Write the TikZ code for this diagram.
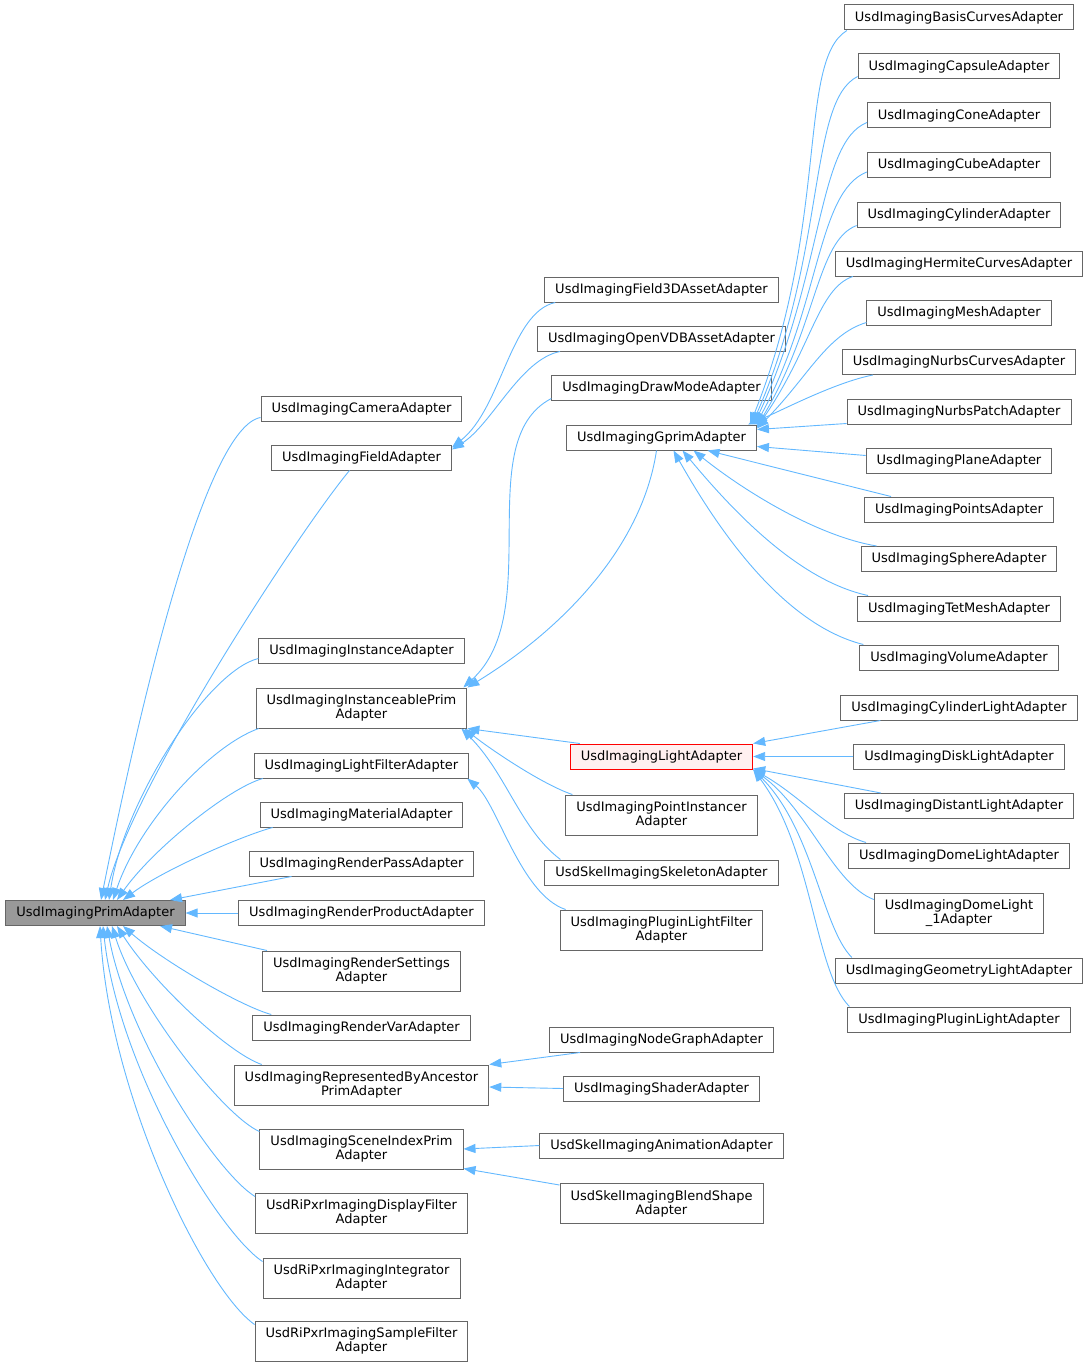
\documentclass[tikz,border=0pt]{standalone}
\usepackage{fontspec}
\setmainfont{DejaVu Sans}
\usetikzlibrary{arrows.meta}

\definecolor{edgeblue}{HTML}{63B8FF}
\definecolor{boxgray}{HTML}{666666}
\definecolor{rootgray}{HTML}{999999}
\definecolor{curfill}{HTML}{FFF0F0}

\tikzset{
	cls/.style={draw=boxgray, fill=white, line width=1pt, inner xsep=10.5pt, inner ysep=2pt,
		minimum height=25pt, align=center, font=\fontsize{13}{14}\selectfont},
	cls2/.style={cls, minimum height=40pt},
	inh/.style={edgeblue, line width=0.9pt, -{Triangle[length=12pt,width=9pt]}}
}

\begin{document}
\begin{tikzpicture}[x=1pt, y=-1pt]
		
		\useasboundingbox (0,0) rectangle (1089,1367);
		
		% Base class
		\node[cls, fill=rootgray] (root) at (95.5,913) {UsdImagingPrimAdapter};
		
		% Direct subclasses
		\foreach \n/\y/\txt in {cam/408.5/UsdImagingCameraAdapter, field/457.5/UsdImagingFieldAdapter,
			inst/650.5/UsdImagingInstanceAdapter, lfilter/765.5/UsdImagingLightFilterAdapter,
			mat/814.5/UsdImagingMaterialAdapter, rpass/863.5/UsdImagingRenderPassAdapter,
			rprod/913/UsdImagingRenderProductAdapter, rvar/1027.5/UsdImagingRenderVarAdapter} {
			\node[cls] (\n) at (361.5,\y) {\txt};
		}
		\node[cls2] (instprim) at (361.5,708) {UsdImagingInstanceablePrim\\Adapter};
		\node[cls2] (rsettings) at (361.5,971) {UsdImagingRenderSettings\\Adapter};
		\node[cls2] (repanc) at (361.5,1085) {UsdImagingRepresentedByAncestor\\PrimAdapter};
		\node[cls2] (sceneidx) at (361.5,1149) {UsdImagingSceneIndexPrim\\Adapter};
		\node[cls2] (dispfilter) at (361.5,1213) {UsdRiPxrImagingDisplayFilter\\Adapter};
		\node[cls2] (integrator) at (361.5,1278) {UsdRiPxrImagingIntegrator\\Adapter};
		\node[cls2] (samplefilter) at (361.5,1341) {UsdRiPxrImagingSampleFilter\\Adapter};
		
		% Second level
		\foreach \n/\y/\txt in {f3d/289.5/UsdImagingField3DAssetAdapter, vdb/338.5/UsdImagingOpenVDBAssetAdapter,
			drawmode/387.5/UsdImagingDrawModeAdapter, gprim/437.5/UsdImagingGprimAdapter,
			skel/872.5/UsdSkelImagingSkeletonAdapter, nodegraph/1039.5/UsdImagingNodeGraphAdapter,
			shader/1088.5/UsdImagingShaderAdapter, anim/1145.5/UsdSkelImagingAnimationAdapter} {
			\node[cls] (\n) at (661.5,\y) {\txt};
		}
		\node[cls, draw=red, fill=curfill] (light) at (661.5,756.5) {UsdImagingLightAdapter};
		\node[cls2] (ptinst) at (661.5,815) {UsdImagingPointInstancer\\Adapter};
		\node[cls2] (pluginlf) at (661.5,930) {UsdImagingPluginLightFilter\\Adapter};
		\node[cls2] (blend) at (661.5,1203.5) {UsdSkelImagingBlendShape\\Adapter};
		
		% Third level
		\foreach \n/\y/\txt in {basis/17.5/UsdImagingBasisCurvesAdapter, capsule/66.5/UsdImagingCapsuleAdapter,
			cone/115.5/UsdImagingConeAdapter, cube/165/UsdImagingCubeAdapter,
			cyl/214.5/UsdImagingCylinderAdapter, hermite/263.5/UsdImagingHermiteCurvesAdapter,
			mesh/312.5/UsdImagingMeshAdapter, ncurves/362/UsdImagingNurbsCurvesAdapter,
			npatch/411.5/UsdImagingNurbsPatchAdapter, plane/460.5/UsdImagingPlaneAdapter,
			points/509.5/UsdImagingPointsAdapter, sphere/559/UsdImagingSphereAdapter,
			tetmesh/608.5/UsdImagingTetMeshAdapter, volume/657.5/UsdImagingVolumeAdapter,
			cyllight/707.5/UsdImagingCylinderLightAdapter, disk/756.5/UsdImagingDiskLightAdapter,
			distant/806/UsdImagingDistantLightAdapter, dome/855.5/UsdImagingDomeLightAdapter,
			geomlight/970.5/UsdImagingGeometryLightAdapter, pluginlight/1019.5/UsdImagingPluginLightAdapter} {
			\node[cls] (\n) at (959,\y) {\txt};
		}
		\node[cls2] (dome1) at (959,913) {UsdImagingDomeLight\\\_1Adapter};
		
		% Edges to the base class
		\draw[inh] ([yshift=4pt]cam.south west) .. controls +(-55,10) and +(40,-200) .. ([xshift=5.5pt]root.north);
		\draw[inh] ([xshift=-12pt]field.south) .. controls +(-50,60) and +(25,-110) .. ([xshift=9.5pt]root.north);
		\draw[inh] ([yshift=5pt]inst.south west) .. controls +(-50,12) and +(15,-100) .. ([xshift=13.5pt]root.north);
		\draw[inh] ([xshift=3pt]instprim.south west) .. controls +(-50,18) and +(25,-75) .. ([xshift=17.5pt]root.north);
		\draw[inh] ([xshift=9pt]lfilter.south west) .. controls +(-35,10) and +(35,-50) .. ([xshift=21.5pt]root.north);
		\draw[inh] ([xshift=13pt]mat.south west) .. controls +(-30,8) and +(40,-30) .. ([xshift=27.5pt]root.north);
		\draw[inh] ([xshift=43pt]rpass.south west) -- ([xshift=74.5pt]root.north);
		\draw[inh] (rprod.west) -- (root.east);
		\draw[inh] ([xshift=5pt]rsettings.north west) -- ([xshift=64.5pt]root.south);
		\draw[inh] ([xshift=19pt]rvar.north west) .. controls +(-30,-8) and +(40,35) .. ([xshift=27.5pt]root.south);
		\draw[inh] ([xshift=28pt]repanc.north west) .. controls +(-35,-12) and +(35,55) .. ([xshift=21.5pt]root.south);
		\draw[inh] ([yshift=-3pt]sceneidx.north west) .. controls +(-35,-15) and +(25,80) .. ([xshift=16.5pt]root.south);
		\draw[inh] ([yshift=-4pt]dispfilter.north west) .. controls +(-40,-25) and +(20,110) .. ([xshift=11.5pt]root.south);
		\draw[inh] ([yshift=-4pt]integrator.north west) .. controls +(-45,-30) and +(15,140) .. ([xshift=7.5pt]root.south);
		\draw[inh] ([yshift=-4pt]samplefilter.north west) .. controls +(-50,-35) and +(10,170) .. ([xshift=4.5pt]root.south);
		
		% Field adapter
		\draw[inh] ([xshift=11pt]f3d.south west) .. controls +(-45,10) and +(50,-40) .. ([yshift=-3pt]field.north east);
		\draw[inh] ([xshift=23pt]vdb.south west) .. controls +(-40,8) and +(40,-25) .. ([yshift=-5pt]field.north east);
		
		% Instanceable prim adapter
		\draw[inh] ([yshift=2pt]drawmode.south west) .. controls +(-81,42) and +(83,-76) .. ([xshift=-4pt]instprim.north east);
		\draw[inh] ([xshift=-5pt]gprim.south) .. controls +(-15,100) and +(90,-55) .. (instprim.north east);
		\draw[inh] ([xshift=10pt]light.north west) -- (instprim.south east);
		\draw[inh] ([xshift=7pt]ptinst.north west) .. controls +(-30,-10) and +(25,20) .. ([xshift=-3pt]instprim.south east);
		\draw[inh] ([xshift=16pt]skel.north west) .. controls +(-40,-30) and +(45,45) .. ([xshift=-6pt]instprim.south east);
		
		% Light filter, ancestor and scene index adapters
		\draw[inh] ([xshift=6pt]pluginlf.north west) .. controls +(-45,-15) and +(30,25) .. ([xshift=-2pt]lfilter.south east);
		\draw[inh] ([xshift=31pt]nodegraph.south west) -- (repanc.north east);
		\draw[inh] (shader.west) -- ([yshift=-2pt]repanc.east);
		\draw[inh] (anim.west) -- (sceneidx.east);
		\draw[inh] ([yshift=-2pt]blend.north west) -- ([yshift=1pt]sceneidx.south east);
		
		% Gprim adapter
		\draw[inh] ([xshift=3pt]basis.south west) .. controls +(-50,30) and +(80,-200) .. ([xshift=-7pt]gprim.north east);
		\draw[inh] ([yshift=3pt]capsule.south west) .. controls +(-50,25) and +(75,-170) .. ([xshift=-5pt]gprim.north east);
		\draw[inh] ([yshift=6pt]cone.south west) .. controls +(-50,20) and +(70,-150) .. ([xshift=-3pt]gprim.north east);
		\draw[inh] ([yshift=6pt]cube.south west) .. controls +(-50,20) and +(65,-120) .. ([xshift=-1pt]gprim.north east);
		\draw[inh] ([yshift=2pt]cyl.south west) .. controls +(-40,15) and +(60,-100) .. ([yshift=-2pt]gprim.north east);
		\draw[inh] ([xshift=18pt]hermite.south west) .. controls +(-35,12) and +(55,-80) .. ([yshift=-3pt]gprim.north east);
		\draw[inh] ([yshift=3pt]mesh.south west) .. controls +(-40,12) and +(50,-50) .. ([yshift=-4pt]gprim.north east);
		\draw[inh] ([xshift=31pt]ncurves.south west) .. controls +(-40,8) and +(30,-12) .. ([xshift=-9pt]gprim.north east);
		\draw[inh] ([yshift=1pt]npatch.south west) -- ([yshift=-5pt]gprim.north east);
		\draw[inh] ([yshift=5pt]plane.west) -- ([yshift=4pt]gprim.south east);
		\draw[inh] ([xshift=27pt]points.north west) -- ([xshift=46pt]gprim.south);
		\draw[inh] ([xshift=16pt]sphere.north west) .. controls +(-60,-10) and +(50,40) .. ([xshift=32pt]gprim.south);
		\draw[inh] ([xshift=11pt]tetmesh.north west) .. controls +(-70,-15) and +(50,60) .. ([xshift=21pt]gprim.south);
		\draw[inh] ([xshift=4pt]volume.north west) .. controls +(-80,-20) and +(45,80) .. ([xshift=12pt]gprim.south);
		
		% Light adapter
		\draw[inh] ([xshift=40pt]cyllight.south west) -- (light.north east);
		\draw[inh] (disk.west) -- (light.east);
		\draw[inh] ([xshift=37pt]distant.north west) -- ([yshift=1pt]light.south east);
		\draw[inh] ([xshift=18pt]dome.north west) .. controls +(-35,-10) and +(45,25) .. (light.south east);
		\draw[inh] ([yshift=-7pt]dome1.north west) .. controls +(-40,-15) and +(55,40) .. (light.south east);
		\draw[inh] ([xshift=17pt]geomlight.north west) .. controls +(-30,-30) and +(60,60) .. (light.south east);
		\draw[inh] ([xshift=2pt]pluginlight.north west) .. controls +(-35,-35) and +(60,80) .. (light.south east);
		
	\end{tikzpicture}
\end{document}
